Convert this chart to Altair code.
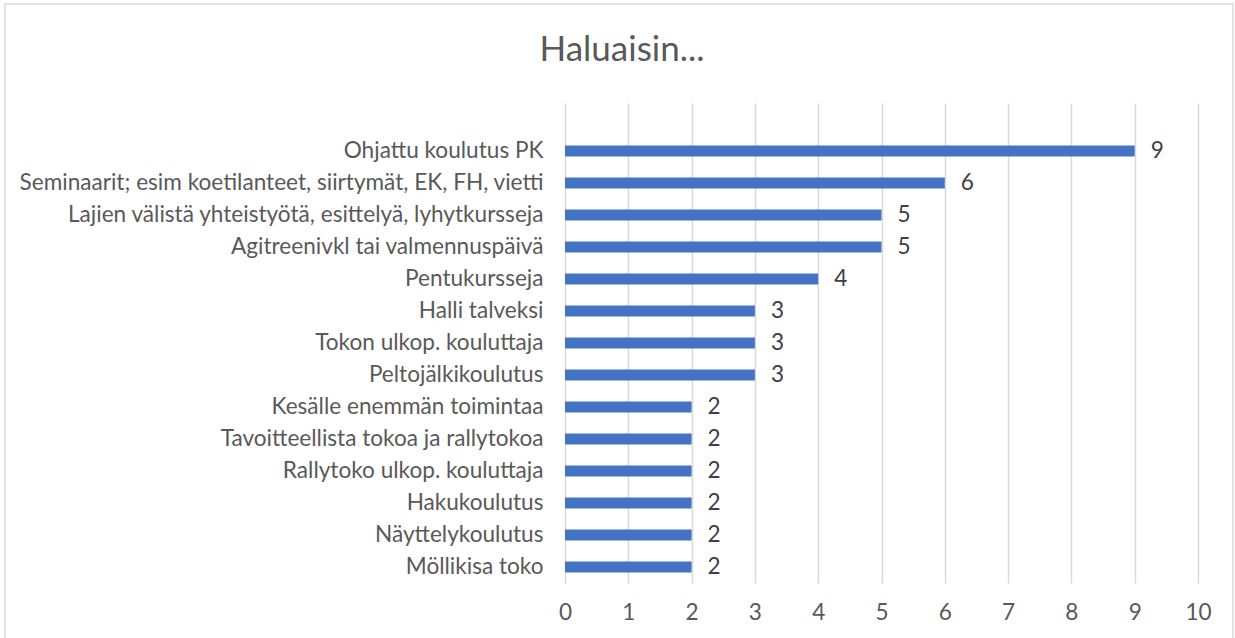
import altair as alt
import pandas as pd

categories = [
    "Ohjattu koulutus PK",
    "Seminaarit; esim koetilanteet, siirtymät, EK, FH, vietti",
    "Lajien välistä yhteistyötä, esittelyä, lyhytkursseja",
    "Agitreenivkl tai valmennuspäivä",
    "Pentukursseja",
    "Halli talveksi",
    "Tokon ulkop. kouluttaja",
    "Peltojälkikoulutus",
    "Kesälle enemmän toimintaa",
    "Tavoitteellista tokoa ja rallytokoa",
    "Rallytoko ulkop. kouluttaja",
    "Hakukoulutus",
    "Näyttelykoulutus",
    "Möllikisa toko",
]
values = [9, 6, 5, 5, 4, 3, 3, 3, 2, 2, 2, 2, 2, 2]
x_ticks = list(range(0, 11))
title_text = "Haluaisin..."

df = pd.DataFrame({"cat": categories, "val": values})

FONT = "Lato"
TXT = "#595959"
FS = 22.6
domain = [" "] + categories

y_enc = alt.Y("cat:N", sort=domain, scale=alt.Scale(domain=domain, paddingInner=0, paddingOuter=0),
              axis=alt.Axis(title=None, domain=False, ticks=False, grid=False, labelPadding=22,
                            labelFont=FONT, labelFontSize=FS, labelColor=TXT, labelLimit=0))
x_enc = alt.X("val:Q", scale=alt.Scale(domain=[0, 10], nice=False),
              axis=alt.Axis(title=None, values=x_ticks, format="d", domain=False, ticks=False, grid=True,
                            gridColor="#d9d9d9", gridWidth=1.5, labelPadding=18, labelFlush=False,
                            labelFont=FONT, labelFontSize=FS, labelColor=TXT))

bars = alt.Chart(df).mark_bar(size=11, color="#4472C4").encode(x=x_enc, y=y_enc)
labels = alt.Chart(df).mark_text(align="left", baseline="middle", dx=16, font=FONT,
                                 fontSize=FS, color="#404040").encode(
    x="val:Q", y=alt.Y("cat:N", sort=domain), text="val:Q")

frame = alt.Chart(pd.DataFrame({"a": [0]})).mark_rect(fill=None, stroke="#d9d9d9", strokeWidth=1.5).encode(
    x=alt.value(-560), x2=alt.value(668), y=alt.value(-99), y2=alt.value(540))

title = alt.Chart(pd.DataFrame({"t": [title_text]})).mark_text(
    align="center", baseline="alphabetic", font=FONT, fontSize=35, color=TXT).encode(
    text="t:N", x=alt.value(57), y=alt.value(-42))

chart = alt.layer(bars, labels, frame, title).properties(
    width=633, height=480,
    padding={"left": 565, "top": 103, "right": 37, "bottom": 55},
    autosize=alt.AutoSizeParams(type="none"),
    background="white",
).configure_view(strokeWidth=0)

chart.save("out.html", embed_options={"renderer": "svg", "actions": False})
